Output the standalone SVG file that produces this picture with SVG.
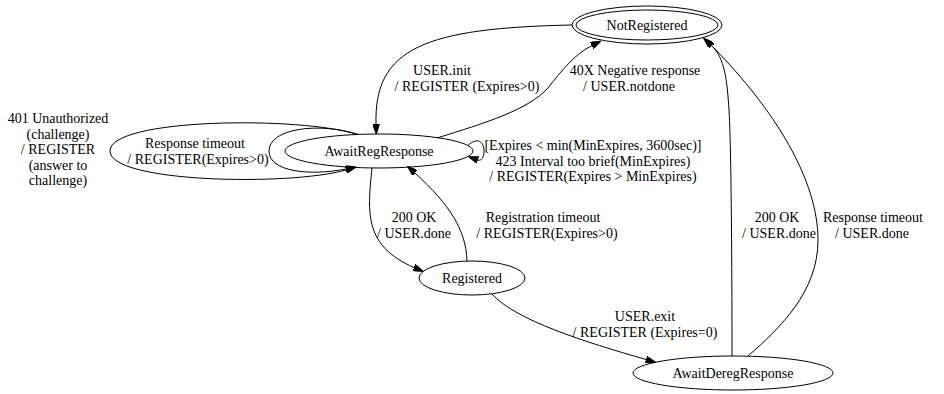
<svg xmlns="http://www.w3.org/2000/svg" width="944" height="394" viewBox="0 0 944 394" font-family="'Liberation Serif', 'Times New Roman', serif" font-size="14">
<style>
text{font-family:'Liberation Serif','Times New Roman',serif;font-size:14px;fill:#000;text-anchor:middle}
.n ellipse{fill:none;stroke:#000;stroke-width:1}
.e path{fill:none;stroke:#000;stroke-width:1;marker-end:url(#arr)}
</style>
<defs>
<marker id="arr" markerWidth="10" markerHeight="7" refX="0" refY="3.5" orient="auto" markerUnits="userSpaceOnUse"><path d="M0,0 L10,3.5 L0,7 z" fill="#000" stroke="#000" stroke-width="1"/></marker>
</defs>
<rect width="944" height="394" fill="#fff"/>
<g id="NotRegistered" class="n">
<ellipse cx="647" cy="25" rx="71" ry="15"/>
<ellipse cx="647" cy="25" rx="75" ry="19"/>
<text x="647" y="30">NotRegistered</text>
</g>
<g id="AwaitRegResponse" class="n">
<ellipse cx="379" cy="151" rx="94" ry="17"/>
<text x="379" y="156">AwaitRegResponse</text>
</g>
<g id="Registered" class="n">
<ellipse cx="472" cy="278" rx="53" ry="17"/>
<text x="472" y="283">Registered</text>
</g>
<g id="AwaitDeregResponse" class="n">
<ellipse cx="733" cy="373" rx="100" ry="17"/>
<text x="733" y="378">AwaitDeregResponse</text>
</g>
<g id="edges" class="e">
<path d="M572,25 C425,28 374,48 376,124"/>
<path d="M437,138 C485,123 528,110 548,88 C562,70 575,54 592,45.5"/>
<path d="M468,145.5 C477,137 484,141 484,151 C484,158 481,161 478,160"/>
<path d="M358,134.5 C300,116 110,118 110,151 C110,183 290,186 346,170"/>
<path d="M358,134.5 C320,122 269,128 269,151 C269,172 310,176 346,169"/>
<path d="M372,168 C367,215 365,246 414,267.5"/>
<path d="M467,261 C466,230 450,205 415,173"/>
<path d="M492,294 C515,320 585,342 646,359.5"/>
<path d="M732,356 C732,250 731,140 729,110 C727,80 725,58 711,45"/>
<path d="M748,356 C780,328 818,292 818,240 C818,180 775,110 712,46"/>
</g>
<g id="labels">
<text x="442" y="75">USER.init</text>
<text x="467" y="90.5">/ REGISTER (Expires&gt;0)</text>
<text x="635" y="75">40X Negative response</text>
<text x="629" y="90.5">/ USER.notdone</text>
<text x="593" y="150">[Expires &lt; min(MinExpires, 3600sec)]</text>
<text x="593" y="165.5">423 Interval too brief(MinExpires)</text>
<text x="593" y="181">/ REGISTER(Expires &gt; MinExpires)</text>
<text x="195" y="148">Response timeout</text>
<text x="198" y="163.5">/ REGISTER(Expires&gt;0)</text>
<text x="58" y="123">401 Unauthorized</text>
<text x="58" y="138.5">(challenge)</text>
<text x="58" y="154">/ REGISTER</text>
<text x="58" y="169.5">(answer to</text>
<text x="58" y="185">challenge)</text>
<text x="414" y="222">200 OK</text>
<text x="414" y="238">/ USER.done</text>
<text x="543" y="222">Registration timeout</text>
<text x="547" y="238">/ REGISTER(Expires&gt;0)</text>
<text x="777" y="222">200 OK</text>
<text x="779" y="238">/ USER.done</text>
<text x="873" y="222">Response timeout</text>
<text x="872" y="238">/ USER.done</text>
<text x="645" y="321">USER.exit</text>
<text x="645" y="337">/ REGISTER (Expires=0)</text>
</g>
</svg>
